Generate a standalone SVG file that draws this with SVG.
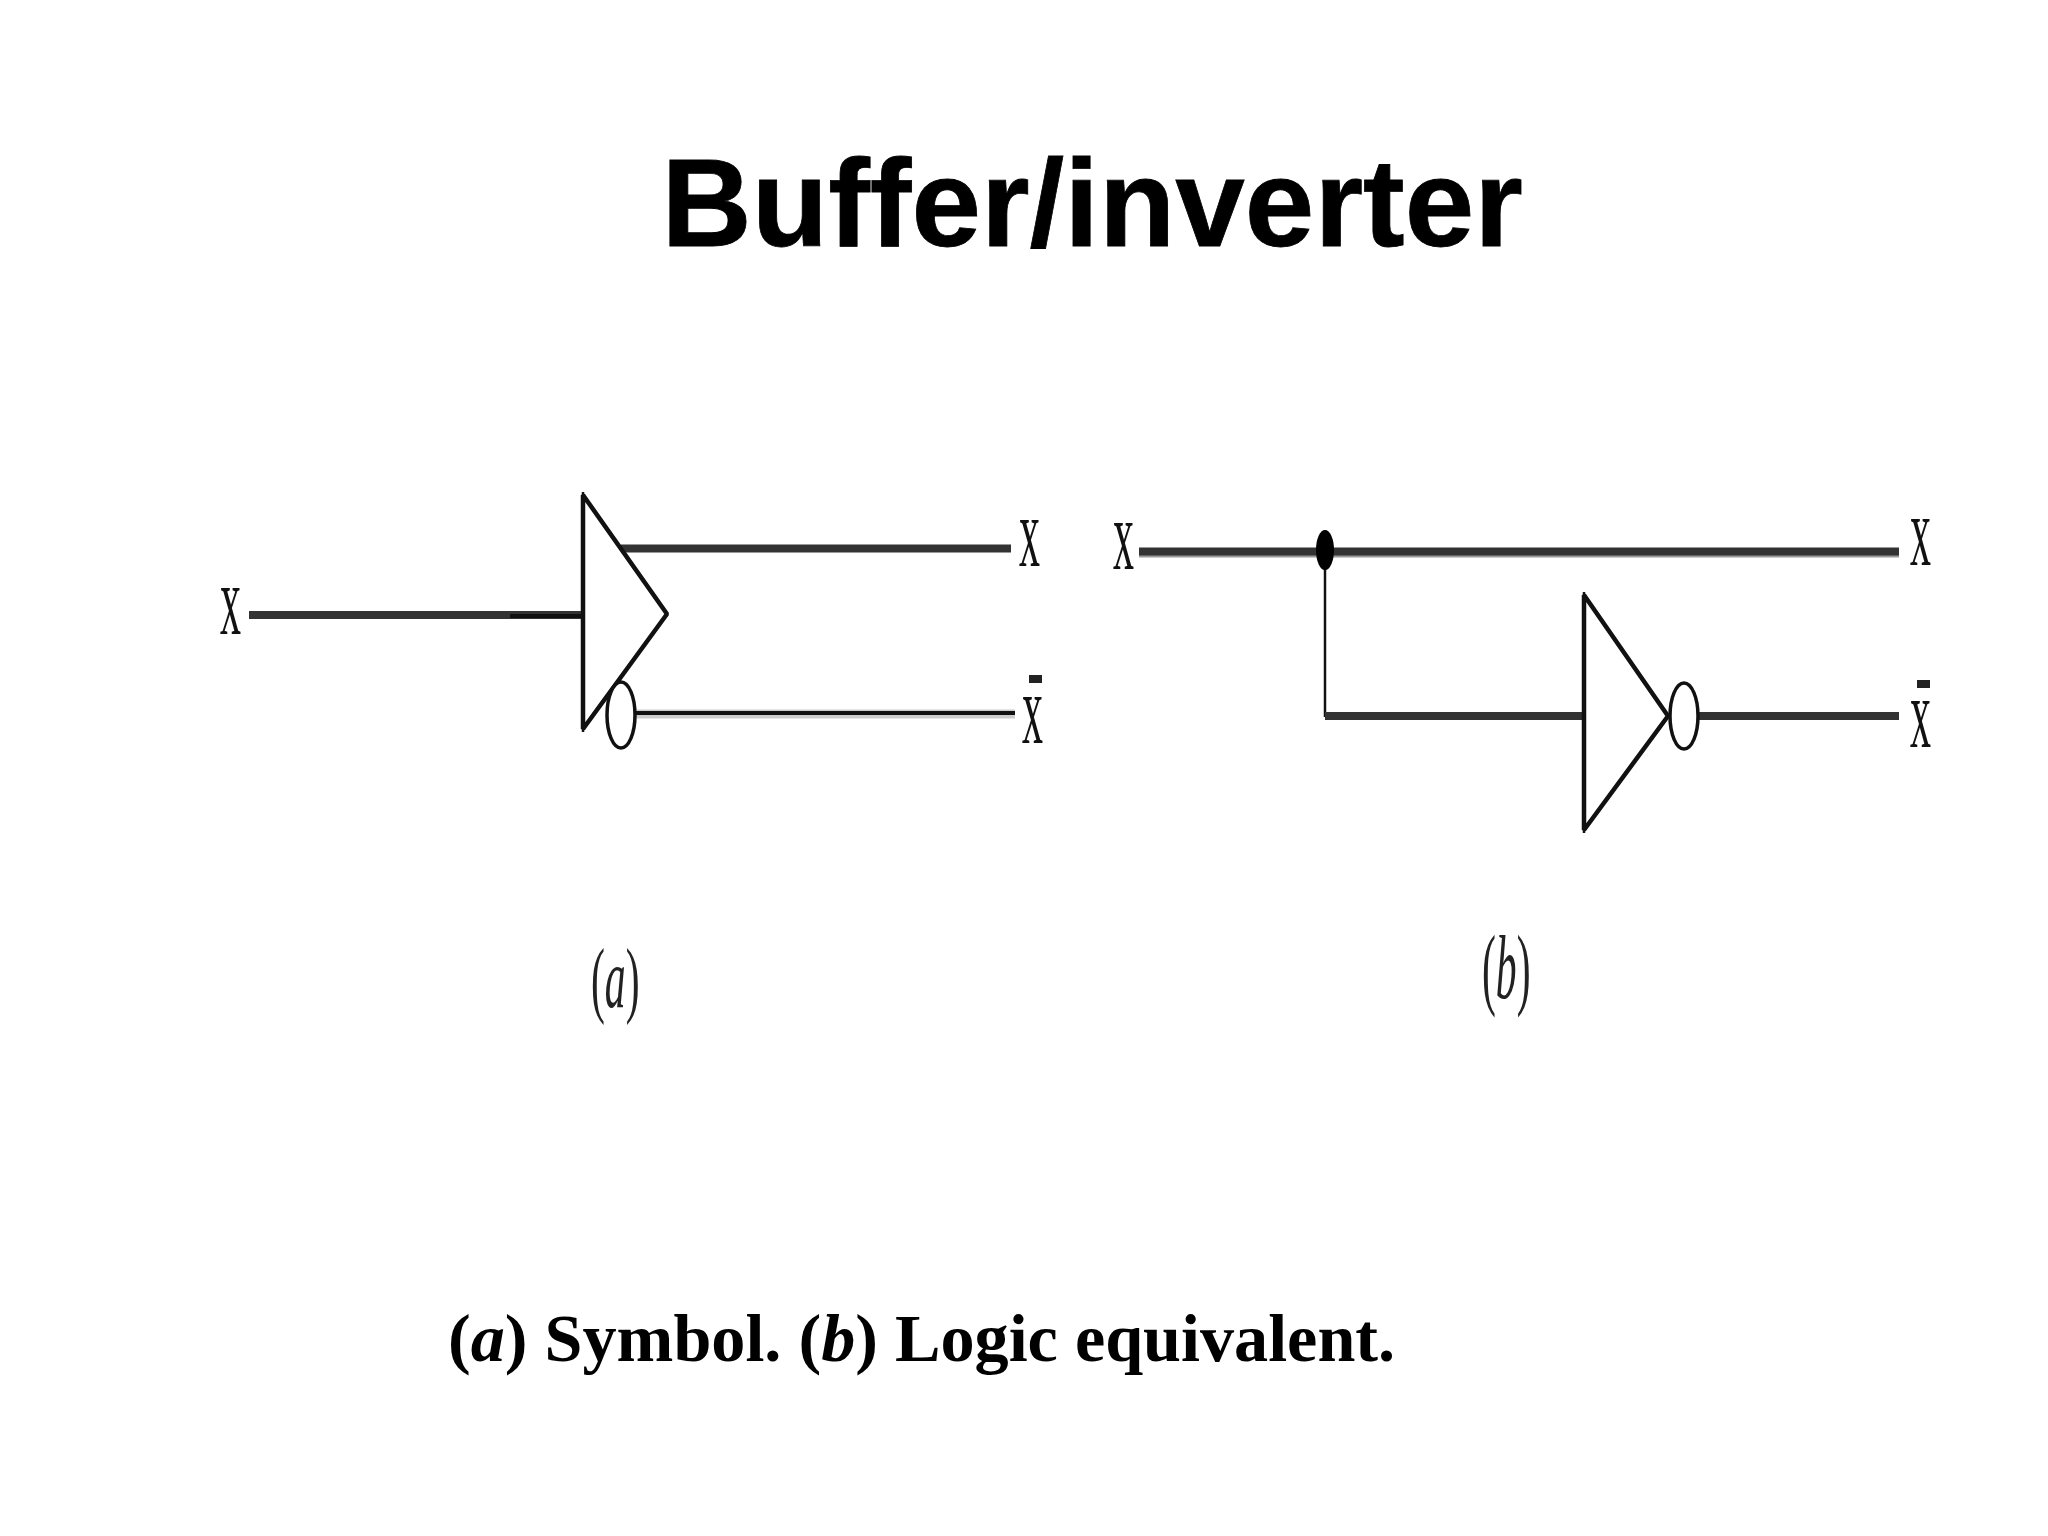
<svg xmlns="http://www.w3.org/2000/svg" width="2048" height="1536" viewBox="0 0 2048 1536">
<style>
.t{font-family:"Liberation Sans",Arial,sans-serif;font-weight:700;font-size:125px;fill:#000;stroke:#000;stroke-width:.8}
.c{font-family:"Liberation Serif","Times New Roman",serif;font-weight:700;font-size:68.200px;fill:#000}
.v{font-family:"Liberation Serif","Times New Roman",serif;font-size:100px;fill:#111}
.p{font-family:"Liberation Serif","Times New Roman",serif;font-size:85px;fill:#222}
.g{fill:#fff;stroke:#111;stroke-width:4.500;stroke-linejoin:bevel}
.e{fill:#fff;stroke:#111;stroke-width:3.500}
.s{stroke:#111;stroke-width:2.500;fill:none}
.w{stroke:#333;stroke-width:8;fill:none}
.k{stroke:#999;stroke-width:8;fill:none}
.d{stroke:#111;stroke-width:4;fill:none}
.h{stroke:#ccc;stroke-width:9;fill:none}
.b{fill:#222}
</style>
<rect width="2048" height="1536" fill="#fff"/>
<text id="title" class="t" x="661.500" y="246">Buffer/inverter</text>
<g id="connectors">
<path class="w" d="M249 615H583"/>
<path class="d" stroke-width="6" d="M510 616H583"/>
<path class="w" d="M621 548.500H1011"/>
<path class="h" d="M636 714H1015"/>
<path class="d" d="M636 713H1015"/>
<path class="k" d="M1139 553.500H1899"/>
<path class="w" d="M1139 551.500H1899" stroke-width="5"/>
<path class="s" d="M1325 553V717" stroke-width="3"/>
<path class="w" d="M1325 716H1584"/>
<path class="w" d="M1698 716H1899"/>
</g>
<g id="buffer-a">
<path class="g" d="M583 495L667 614L583 729Z"/>
<path class="s" d="M583 492V732"/>
<ellipse class="e" cx="621" cy="715" rx="14" ry="33"/>
</g>
<g id="junction"><ellipse cx="1325" cy="550" rx="9" ry="20" fill="#000"/></g>
<g id="inverter-b">
<path class="g" d="M1584 595L1668 716L1584 830Z"/>
<path class="s" d="M1584 592V833"/>
<ellipse class="e" cx="1684" cy="716" rx="14" ry="33"/>
</g>
<g id="labels-a">
<text class="v" transform="translate(220,634) scale(.42,1)">x</text>
<text class="v" transform="translate(1019,566) scale(.42,1)">x</text>
<text class="v" transform="translate(1022,743) scale(.42,1)">x</text>
<rect class="b" x="1029" y="675" width="13" height="8"/>
<text class="p" transform="translate(591,1007) scale(.49,1)">(<tspan font-style="italic">a</tspan>)</text>
</g>
<g id="labels-b">
<text class="v" transform="translate(1113,569) scale(.42,1)">x</text>
<text class="v" transform="translate(1910,565) scale(.42,1)">x</text>
<text class="v" transform="translate(1910,747) scale(.42,1)">x</text>
<rect class="b" x="1917" y="680" width="13" height="8"/>
<text class="p" transform="translate(1482,998) scale(.49,1.08)">(<tspan font-style="italic">b</tspan>)</text>
</g>
<text id="caption" class="c" x="448" y="1361">(<tspan font-style="italic">a</tspan>) Symbol. (<tspan font-style="italic">b</tspan>) Logic equivalent.</text>
</svg>
